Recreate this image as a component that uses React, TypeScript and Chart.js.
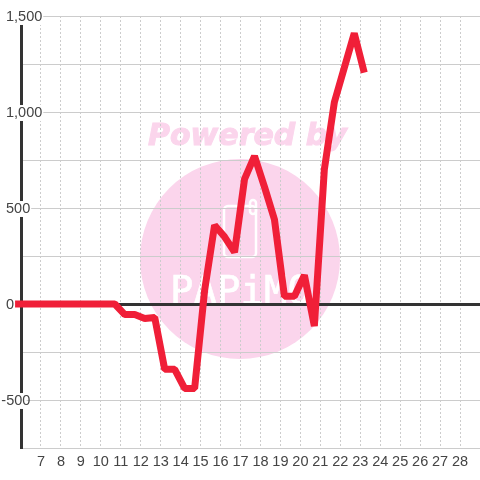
import React, { useEffect, useRef } from "react";
import { Chart, registerables } from "chart.js";

Chart.register(...registerables);

const xValues = [5.7,6.2,6.7,7.2,7.7,8.2,8.7,9.2,9.7,10.2,10.7,11.2,11.7,12.2,12.7,13.2,13.7,14.2,14.7,15.2,15.7,16.2,16.7,17.2,17.7,18.2,18.7,19.2,19.7,20.2,20.7,21.2,21.7,22.2,22.7,23.2];
const yValues = [0,0,0,0,0,0,0,0,0,0,0,-55,-55,-75,-70,-340,-340,-440,-440,70,410,350,270,650,770,610,440,40,40,150,-115,700,1050,1230,1410,1205];
const xMin = 6;
const xMax = 29;
const xFirstTick = 7;
const xLastTick = 28;
const yMin = -750;
const yMax = 1500;
const yStep = 250;
const yLabelled = [-500, 0, 500, 1000, 1500];
const watermarkTop = "Powered by";
const watermarkBottom = "PAPiMO";

const DARK = "#333333";
const GRID = "#cccccc";
const TEXT = "#444444";
const RED = "#f01f38";
const PINK = "#fbd5ec";
const FONT = "'Liberation Sans', Arial, sans-serif";

const watermark = {
  id: "watermark",
  beforeDraw(chart: any) {
    const { ctx } = chart;
    const yScale = chart.scales.y;
    if (!yScale.$shifted) {
      yScale.$shifted = true;
      for (const it of yScale.getLabelItems()) {
        it.options.translation[1] += 1;
        if (String(it.label).startsWith("-")) {
          it.options.translation[0] -= 4.7;
          if (it.options.backdrop) it.options.backdrop.left -= 4.7;
        }
      }
    }
    ctx.save();
    ctx.fillStyle = "#ffffff";
    ctx.fillRect(0, 0, chart.width, chart.height);
    ctx.fillStyle = PINK;
    ctx.beginPath();
    ctx.arc(240, 259, 100, 0, Math.PI * 2);
    ctx.fill();
    ctx.font = "italic bold 30px 'DejaVu Sans'";
    ctx.textAlign = "left";
    ctx.textBaseline = "alphabetic";
    ctx.strokeStyle = PINK;
    ctx.lineWidth = 1;
    ctx.strokeText(watermarkTop, 148, 145);
    ctx.fillText(watermarkTop, 148, 145);
    ctx.strokeStyle = "#ffffff";
    ctx.lineWidth = 2.5;
    ctx.beginPath();
    ctx.roundRect(224, 206, 32, 51, 4);
    ctx.stroke();
    ctx.beginPath();
    ctx.roundRect(250, 200, 6, 14, 3);
    ctx.stroke();
    ctx.fillStyle = "#ffffff";
    ctx.strokeStyle = "#ffffff";
    ctx.lineWidth = 0.6;
    ctx.font = "39px 'DejaVu Sans Mono'";
    ctx.strokeText(watermarkBottom, 170, 304);
    ctx.fillText(watermarkBottom, 170, 304);
    ctx.restore();
  },
};

export default function App() {
  const ref = useRef<HTMLCanvasElement | null>(null);
  useEffect(() => {
    document.body.style.margin = "0";
    const chart = new Chart(ref.current as HTMLCanvasElement, {
      type: "line",
      data: {
        datasets: [
          {
            data: xValues.map((x, i) => ({ x, y: yValues[i] })),
            borderColor: RED,
            borderWidth: 7,
            borderJoinStyle: "bevel",
            borderCapStyle: "butt",
            pointRadius: 0,
            tension: 0,
            clip: false as any,
            fill: false,
          },
        ],
      },
      options: {
        responsive: false,
        animation: false,
        layout: { padding: { left: 0, right: 0, top: 16, bottom: 0 } },
        plugins: { legend: { display: false }, tooltip: { enabled: false }, title: { display: false } },
        scales: {
          x: {
            type: "linear",
            min: xMin,
            max: xMax,
            afterBuildTicks(scale: any) {
              const t = [];
              for (let v = xFirstTick; v <= xLastTick; v++) t.push({ value: v });
              scale.ticks = t;
            },
            afterFit(scale: any) {
              scale.height = 32;
            },
            grid: { color: GRID, lineWidth: 1, drawTicks: false },
            border: { display: false, dash: [2, 2] },
            ticks: {
              autoSkip: false,
              maxRotation: 0,
              padding: 5,
              color: TEXT,
              font: { family: FONT, size: 14.5 },
              callback: (v: any) => String(v),
            },
          },
          y: {
            type: "linear",
            min: yMin,
            max: yMax,
            afterFit(scale: any) {
              scale.width = 21;
            },
            grid: {
              drawTicks: false,
              color: (c: any) => (c.tick.value === 0 ? DARK : GRID),
              lineWidth: (c: any) => (c.tick.value === 0 ? 3 : 1),
            },
            border: { display: true, color: DARK, width: 3 },
            ticks: {
              stepSize: yStep,
              mirror: true,
              crossAlign: "near",
              padding: -15,
              z: 1,
              color: TEXT,
              font: { family: FONT, size: 14.5, lineHeight: 1.1 },
              showLabelBackdrop: true,
              backdropColor: "#ffffff",
              backdropPadding: { left: 0, right: 1, top: 0, bottom: 0 },
              callback: (v: any) => (yLabelled.includes(v) ? Number(v).toLocaleString("en-US") : ""),
            },
          },
        },
      },
      plugins: [watermark],
    } as any);
    return () => chart.destroy();
  }, []);
  return (
    <div style={{ width: 480, height: 480 }}>
      <canvas ref={ref} width={480} height={480} style={{ display: "block" }} />
    </div>
  );
}
